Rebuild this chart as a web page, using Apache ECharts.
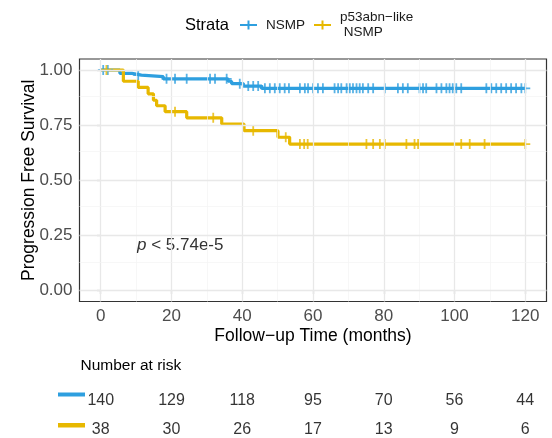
<!DOCTYPE html>
<html><head><meta charset="utf-8">
<script src="https://cdn.jsdelivr.net/npm/echarts@6/dist/echarts.min.js"></script>
<style>html,body{margin:0;padding:0;background:#fff}#c{width:552px;height:438px}</style>
</head><body><div id="c"></div>
<script>
// ---- data ----
const seriesNames = ['NSMP', 'p53abn\u2212like\n NSMP'];
const colors = ['#2E9FDF', '#E7B800'];

const nsmpTime = [0, 5.4, 8.8, 11.5, 17.7, 36.0, 37.0, 40.3, 45.5, 120];
const nsmpSurv = [1.0, 0.985, 0.977, 0.970, 0.960, 0.949, 0.938, 0.927, 0.917, 0.917];
const nsmpCensor = [0.7, 2.0, 10.6, 18.6, 21.0, 24.3, 30.9, 32.3, 35.6, 39.3, 41.7, 43.1, 44.5,
  46.4, 47.8, 49.2, 50.6, 52.0, 53.2, 56.3, 57.7, 58.6, 60.0, 61.4, 62.8, 66.1, 67.1, 68.0,
  69.5, 70.4, 71.3, 72.3, 73.2, 74.1, 75.6, 77.0, 80.3, 84.0, 85.4, 86.8, 90.1, 91.1, 92.0,
  94.9, 96.3, 97.7, 98.6, 99.5, 100.5, 101.9, 109.0, 110.4, 111.8, 113.2, 114.6, 116.0,
  117.4, 118.9, 120];

const p53Time = [0, 6.4, 10.6, 13.4, 14.9, 15.8, 18.2, 24.3, 34.2, 40.5, 50.1, 53.4, 120];
const p53Surv = [1.0, 0.949, 0.921, 0.892, 0.863, 0.838, 0.811, 0.783, 0.755, 0.725, 0.695, 0.664, 0.664];
const p53Censor = [1.6, 21.0, 31.8, 43.1, 52.3, 56.3, 57.5, 58.5, 75.1, 77.0, 78.9, 80.3,
  86.4, 88.7, 89.7, 101.9, 104.3, 108.5, 120];

const riskTimes = [0, 20, 40, 60, 80, 100, 120];
const riskNSMP = [140, 129, 118, 95, 70, 56, 44];
const riskP53 = [38, 30, 26, 17, 13, 9, 6];

const xTicks = [0, 20, 40, 60, 80, 100, 120];
const xMinor = [10, 30, 50, 70, 90, 110];
const yTicks = [0, 0.25, 0.5, 0.75, 1];
const yMinor = [0.125, 0.375, 0.625, 0.875];

// ---- helpers ----
const FF = 'Liberation Sans, Arial, sans-serif';
function pairs(t, s) { return t.map((v, i) => [v, s[i]]); }
function survAt(t, s, x) { let v = s[0]; for (let i = 0; i < t.length; i++) { if (t[i] <= x) v = s[i]; } return v; }
const plus = 'path://M-0.9,-5H0.9V-0.9H5V0.9H0.9V5H-0.9V0.9H-5V-0.9H-0.9Z';
const legendIcon = 'path://M0,3.5H7.5V0H9.5V3.5H17V5.5H9.5V9H7.5V5.5H0Z';

const gridLines = [];
xTicks.forEach(v => gridLines.push({ xAxis: v, lineStyle: { color: '#E8E8E8', width: 1.3, type: 'solid' } }));
xMinor.forEach(v => gridLines.push({ xAxis: v, lineStyle: { color: '#F3F3F3', width: 0.7, type: 'solid' } }));
yTicks.forEach(v => gridLines.push({ yAxis: v, lineStyle: { color: '#E8E8E8', width: 1.3, type: 'solid' } }));
yMinor.forEach(v => gridLines.push({ yAxis: v, lineStyle: { color: '#F3F3F3', width: 0.7, type: 'solid' } }));

const chart = echarts.init(document.getElementById('c'), null, { renderer: 'canvas' });
chart.setOption({
  animation: false,
  backgroundColor: '#fff',
  textStyle: { fontFamily: FF },
  legend: {
    data: seriesNames, left: 240, top: 10, padding: 0, itemWidth: 17, itemHeight: 9, itemGap: 9,
    icon: legendIcon, selectedMode: false,
    textStyle: { fontSize: 13.5, fontFamily: FF, color: '#1a1a1a', padding: [0, 0, 0, 4], lineHeight: 15 }
  },
  grid: [
    { left: 79.5, right: 5.5, top: 59, height: 242.5, show: true, borderColor: '#333', borderWidth: 1.2, backgroundColor: '#fff' },
    { left: 79.5, right: 5.5, top: 386.5, height: 50.75, show: false }
  ],
  xAxis: [
    { type: 'value', gridIndex: 0, min: -6, max: 126,
      name: 'Follow\u2212up Time (months)', nameLocation: 'middle', nameGap: 26, nameMoveOverlap: false,
      nameTextStyle: { fontSize: 17.5, color: '#000', fontFamily: FF },
      axisLine: { show: false },
      axisTick: { show: true, customValues: xTicks, length: 4, lineStyle: { color: '#333', width: 1.1 } },
      axisLabel: { customValues: xTicks, fontSize: 17, color: '#4D4D4D', margin: 6, fontFamily: FF },
      splitLine: { show: false } },
    { type: 'value', gridIndex: 1, min: -6, max: 126, show: false }
  ],
  yAxis: [
    { type: 'value', gridIndex: 0, min: -0.05, max: 1.05,
      name: 'Progression Free Survival', nameLocation: 'middle', nameGap: 41.5, nameMoveOverlap: false,
      nameTextStyle: { fontSize: 17.5, color: '#000', fontFamily: FF },
      axisLine: { show: false },
      axisTick: { show: true, customValues: yTicks, length: 4, lineStyle: { color: '#333', width: 1.1 } },
      axisLabel: { customValues: yTicks, fontSize: 17, color: '#4D4D4D', margin: 7, fontFamily: FF,
        formatter: v => v.toFixed(2) },
      splitLine: { show: false } },
    { type: 'value', gridIndex: 1, min: 0.25, max: 2, show: false }
  ],
  series: [
    { type: 'line', name: 'grid', xAxisIndex: 0, yAxisIndex: 0, data: [], z: 1, silent: true,
      markLine: { silent: true, symbol: 'none', label: { show: false }, animation: false, data: gridLines } },
    { type: 'line', name: seriesNames[0], step: 'end', showSymbol: false, symbol: 'none', z: 3,
      data: pairs(nsmpTime, nsmpSurv), color: colors[0], lineStyle: { color: colors[0], width: 3.2 } },
    { type: 'line', name: seriesNames[1], step: 'end', showSymbol: false, symbol: 'none', z: 3,
      data: pairs(p53Time, p53Surv), color: colors[1], lineStyle: { color: colors[1], width: 3.2 } },
    { type: 'scatter', name: 'NSMP censored', symbol: plus, symbolSize: [10, 10], z: 4,
      itemStyle: { color: colors[0] }, data: nsmpCensor.map(t => [t, survAt(nsmpTime, nsmpSurv, t)]) },
    { type: 'scatter', name: 'p53 censored', symbol: plus, symbolSize: [10, 10], z: 4,
      itemStyle: { color: colors[1] }, data: p53Censor.map(t => [t, survAt(p53Time, p53Surv, t)]) },
    { type: 'scatter', name: 'risk NSMP', xAxisIndex: 1, yAxisIndex: 1, symbolSize: 1,
      itemStyle: { color: 'rgba(0,0,0,0)' },
      label: { show: true, position: 'inside', formatter: p => String(p.value[2]), color: '#000', fontSize: 16, fontFamily: FF },
      data: riskTimes.map((t, i) => [t, 1.5, riskNSMP[i]]) },
    { type: 'scatter', name: 'risk p53', xAxisIndex: 1, yAxisIndex: 1, symbolSize: 1,
      itemStyle: { color: 'rgba(0,0,0,0)' },
      label: { show: true, position: 'inside', formatter: p => String(p.value[2]), color: '#000', fontSize: 16, fontFamily: FF },
      data: riskTimes.map((t, i) => [t, 0.5, riskP53[i]]) }
  ],
  graphic: [
    { type: 'text', left: 185, top: 17, style: { text: 'Strata', fontSize: 16.5, fontFamily: FF, fill: '#000' } },
    { type: 'text', left: 137, top: 237, style: { rich: { i: { fontStyle: 'italic', fontSize: 17, fontFamily: FF, fill: '#333' }, n: { fontSize: 17, fontFamily: FF, fill: '#333' } }, text: '{i|p}{n| < 5.74e-5}' } },
    { type: 'text', left: 80.5, top: 358, style: { text: 'Number at risk', fontSize: 15.5, fontFamily: FF, fill: '#000' } },
    { type: 'rect', shape: { x: 58, y: 392.5, width: 27, height: 4 }, style: { fill: colors[0] } },
    { type: 'rect', shape: { x: 58, y: 423, width: 27, height: 4.5 }, style: { fill: colors[1] } }
  ]
});
</script></body></html>
